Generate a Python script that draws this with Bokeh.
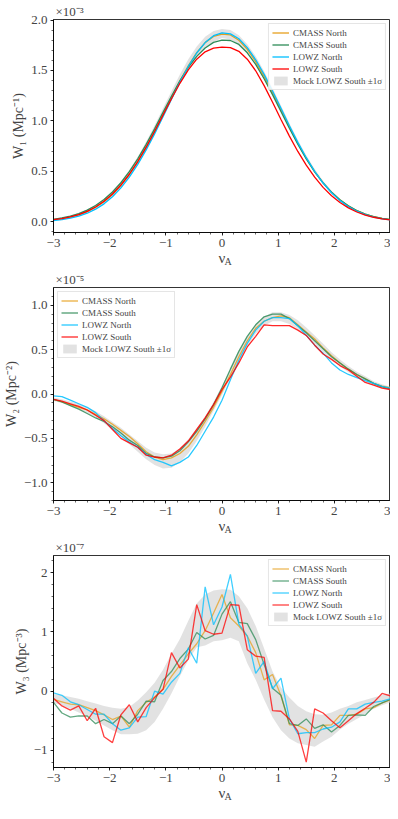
from bokeh.plotting import figure
from bokeh.models import (Range1d, FixedTicker, CustomJSTickFormatter, Legend,
                          LegendItem, Title)
from bokeh.layouts import column
from bokeh.embed import file_html
from bokeh.resources import INLINE

# ---------------- data ----------------
nu = [-3.0, -2.85, -2.7, -2.55, -2.4, -2.25, -2.1, -1.95, -1.8, -1.65,
      -1.5, -1.35, -1.2, -1.05, -0.9, -0.75, -0.6, -0.45, -0.3, -0.15,
      0.0,
      0.15, 0.3, 0.45, 0.6, 0.75, 0.9, 1.05, 1.2, 1.35, 1.5,
      1.65, 1.8, 1.95, 2.1, 2.25, 2.4, 2.55, 2.7, 2.85, 3.0]

series_names = ["CMASS North", "CMASS South", "LOWZ North", "LOWZ South"]
band_name = "Mock LOWZ South \u00b11\u03c3"

# W1 (x 1e-3 Mpc^-1)
w1_cmass_north = [0.022, 0.033, 0.049, 0.071, 0.102, 0.145, 0.200, 0.272, 0.361, 0.468,
                  0.594, 0.737, 0.894, 1.061, 1.229, 1.395, 1.546, 1.676, 1.776, 1.838,
                  1.860,
                  1.852, 1.800, 1.710, 1.588, 1.442, 1.279, 1.110, 0.940, 0.779, 0.631,
                  0.499, 0.387, 0.293, 0.217, 0.157, 0.111, 0.077, 0.052, 0.034, 0.022]
w1_cmass_south = [0.026, 0.039, 0.057, 0.082, 0.116, 0.162, 0.221, 0.296, 0.388, 0.498,
                  0.625, 0.768, 0.922, 1.085, 1.245, 1.397, 1.531, 1.640, 1.723, 1.778,
                  1.800,
                  1.797, 1.758, 1.675, 1.560, 1.418, 1.259, 1.094, 0.928, 0.770, 0.625,
                  0.496, 0.386, 0.294, 0.219, 0.159, 0.113, 0.078, 0.053, 0.035, 0.023]
w1_lowz_north = [0.014, 0.023, 0.037, 0.057, 0.086, 0.126, 0.179, 0.249, 0.337, 0.444,
                 0.570, 0.713, 0.872, 1.042, 1.215, 1.384, 1.540, 1.673, 1.776, 1.845,
                 1.872,
                 1.862, 1.814, 1.726, 1.606, 1.461, 1.297, 1.125, 0.953, 0.788, 0.636,
                 0.500, 0.385, 0.289, 0.211, 0.151, 0.106, 0.072, 0.048, 0.031, 0.019]
w1_lowz_south = [0.022, 0.033, 0.050, 0.073, 0.105, 0.148, 0.204, 0.276, 0.365, 0.472,
                 0.598, 0.740, 0.895, 1.058, 1.220, 1.373, 1.506, 1.612, 1.685, 1.722,
                 1.732,
                 1.726, 1.690, 1.612, 1.497, 1.350, 1.185, 1.014, 0.850, 0.698, 0.562,
                 0.443, 0.342, 0.259, 0.192, 0.139, 0.098, 0.068, 0.046, 0.031, 0.020]
w1_mock_hi = [0.030, 0.043, 0.062, 0.088, 0.123, 0.170, 0.230, 0.306, 0.400, 0.513,
              0.645, 0.793, 0.955, 1.125, 1.295, 1.460, 1.610, 1.737, 1.833, 1.892,
              1.912,
              1.900, 1.850, 1.760, 1.640, 1.492, 1.326, 1.152, 0.978, 0.812, 0.660,
              0.524, 0.407, 0.308, 0.228, 0.165, 0.118, 0.082, 0.056, 0.038, 0.026]
w1_mock_lo = [0.014, 0.023, 0.037, 0.057, 0.086, 0.126, 0.180, 0.250, 0.338, 0.445,
              0.570, 0.712, 0.868, 1.034, 1.200, 1.360, 1.505, 1.628, 1.722, 1.782,
              1.822,
              1.808, 1.760, 1.672, 1.552, 1.408, 1.246, 1.078, 0.912, 0.756, 0.612,
              0.484, 0.374, 0.282, 0.206, 0.148, 0.104, 0.071, 0.047, 0.030, 0.018]

# W2 (x 1e-5 Mpc^-2)
w2_cmass_north = [-0.06, -0.09, -0.12, -0.15, -0.18, -0.23, -0.28, -0.34, -0.41, -0.48,
                  -0.56, -0.65, -0.71, -0.74, -0.72, -0.67, -0.59, -0.46, -0.31, -0.15,
                  0.03,
                  0.22, 0.42, 0.60, 0.74, 0.82, 0.86, 0.88, 0.86, 0.78, 0.70,
                  0.62, 0.52, 0.43, 0.35, 0.28, 0.22, 0.17, 0.12, 0.09, 0.07]
w2_cmass_south = [-0.06, -0.09, -0.13, -0.17, -0.22, -0.27, -0.31, -0.37, -0.44, -0.52,
                  -0.58, -0.67, -0.71, -0.72, -0.70, -0.64, -0.54, -0.42, -0.28, -0.12,
                  0.07,
                  0.28, 0.48, 0.65, 0.78, 0.87, 0.90, 0.90, 0.85, 0.77, 0.69,
                  0.60, 0.51, 0.42, 0.35, 0.28, 0.22, 0.17, 0.12, 0.08, 0.06]
w2_lowz_north = [-0.02, -0.03, -0.07, -0.11, -0.15, -0.21, -0.30, -0.39, -0.47, -0.54,
                 -0.60, -0.68, -0.74, -0.77, -0.81, -0.77, -0.71, -0.58, -0.42, -0.26,
                 -0.07,
                 0.16, 0.38, 0.57, 0.72, 0.82, 0.86, 0.86, 0.85, 0.77, 0.66,
                 0.55, 0.46, 0.35, 0.27, 0.22, 0.185, 0.15, 0.12, 0.085, 0.065]
w2_lowz_south = [-0.06, -0.08, -0.11, -0.14, -0.18, -0.24, -0.30, -0.40, -0.50, -0.55,
                 -0.60, -0.69, -0.71, -0.72, -0.69, -0.62, -0.53, -0.40, -0.27, -0.12,
                 0.05,
                 0.19, 0.35, 0.53, 0.65, 0.78, 0.77, 0.77, 0.77, 0.72, 0.66,
                 0.55, 0.45, 0.39, 0.32, 0.27, 0.20, 0.13, 0.10, 0.065, 0.05]
w2_mock_hi = [-0.04, -0.06, -0.085, -0.11, -0.15, -0.195, -0.25, -0.315, -0.38, -0.455,
              -0.53, -0.605, -0.66, -0.68, -0.67, -0.61, -0.51, -0.39, -0.25, -0.09,
              0.09,
              0.28, 0.47, 0.64, 0.78, 0.87, 0.92, 0.92, 0.89, 0.83, 0.75,
              0.66, 0.565, 0.47, 0.39, 0.315, 0.25, 0.20, 0.145, 0.11, 0.08]
w2_mock_lo = [-0.08, -0.10, -0.135, -0.17, -0.21, -0.265, -0.33, -0.405, -0.48, -0.565,
              -0.65, -0.735, -0.80, -0.84, -0.83, -0.77, -0.67, -0.53, -0.37, -0.19,
              -0.01,
              0.18, 0.37, 0.54, 0.68, 0.77, 0.82, 0.82, 0.79, 0.73, 0.65,
              0.56, 0.475, 0.39, 0.31, 0.245, 0.19, 0.14, 0.095, 0.07, 0.04]

# W3 (x 1e-7 Mpc^-3)
w3_cmass_north = [-0.14, -0.18, -0.22, -0.23, -0.28, -0.33, -0.40, -0.48, -0.42, -0.61,
                  -0.33, -0.19, -0.10, 0.03, 0.25, 0.44, 0.63, 0.80, 1.02, 1.32,
                  1.63,
                  1.24, 1.10, 0.93, 0.65, 0.19, 0.28, -0.08, -0.57, -0.58, -0.65,
                  -0.80, -0.58, -0.57, -0.41, -0.41, -0.39, -0.30, -0.28, -0.20, -0.15]
w3_cmass_south = [-0.19, -0.37, -0.44, -0.42, -0.42, -0.55, -0.48, -0.55, -0.42, -0.55,
                  -0.39, -0.17, -0.18, 0.18, 0.33, 0.55, 0.71, 0.99, 0.88, 0.94,
                  1.30,
                  1.51, 1.16, 1.14, 0.87, 0.45, 0.05, -0.07, -0.55, -0.58, -0.47,
                  -0.63, -0.57, -0.69, -0.58, -0.41, -0.40, -0.41, -0.26, -0.20, -0.14]
w3_lowz_north = [-0.03, -0.07, -0.18, -0.23, -0.31, -0.39, -0.39, -0.55, -0.66, -0.62,
                 -0.44, -0.43, 0.00, -0.05, 0.15, 0.30, 0.73, 0.47, 1.76, 1.12,
                 1.42,
                 1.97, 1.13, 0.93, 0.30, 0.50, 0.04, 0.22, -0.47, -0.72, -0.70,
                 -0.70, -0.64, -0.61, -0.52, -0.30, -0.30, -0.22, -0.19, -0.17, -0.13]
w3_lowz_south = [-0.12, -0.25, -0.32, -0.25, -0.50, -0.29, -0.77, -0.87, -0.40, -0.23,
                 -0.52, -0.28, -0.11, 0.03, 0.65, 0.39, 0.54, 1.46, 1.02, 0.96,
                 0.98,
                 1.46, 1.45, 0.70, 0.59, 0.57, -0.33, -0.34, -0.47, -0.68, -1.20,
                 -0.30, -0.37, -0.50, -0.62, -0.50, -0.38, -0.29, -0.19, -0.04, -0.08]
w3_mock_hi = [-0.05, -0.07, -0.10, -0.13, -0.17, -0.21, -0.25, -0.28, -0.30, -0.27,
              -0.16, -0.02, 0.14, 0.36, 0.63, 0.88, 1.19, 1.48, 1.63, 1.70,
              1.72,
              1.71, 1.60, 1.40, 1.10, 0.72, 0.33, 0.06, -0.11, -0.25, -0.34,
              -0.39, -0.40, -0.36, -0.30, -0.25, -0.19, -0.15, -0.11, -0.07, -0.04]
w3_mock_lo = [-0.20, -0.24, -0.30, -0.36, -0.42, -0.50, -0.58, -0.66, -0.73, -0.73,
              -0.72, -0.66, -0.52, -0.30, -0.04, 0.25, 0.52, 0.74, 0.77, 0.84,
              0.86,
              0.90, 0.84, 0.47, 0.19, -0.14, -0.44, -0.66, -0.80, -0.88, -0.91,
              -0.94, -0.85, -0.77, -0.65, -0.55, -0.47, -0.39, -0.30, -0.24, -0.19]

x_ticks = [-3, -2, -1, 0, 1, 2, 3]
y1_ticks = [0.0, 0.5, 1.0, 1.5, 2.0]
y2_ticks = [-1.0, -0.5, 0.0, 0.5, 1.0]
y3_ticks = [-1, 0, 1, 2]

# ---------------- style ----------------
FONT = "Liberation Serif"
COLORS = ["#E6A01E", "#2E8B57", "#00BFFF", "#FF0000"]


def fmt(digits):
    return CustomJSTickFormatter(code=(
        "const s = Math.abs(tick).toFixed(%d);"
        "return (tick < -1e-9 ? '\\u2212' : '') + s;" % digits))


def make_panel(height, ylo, yhi, yticks, yminor, ydigits, ylabel, scale,
               curves, band_lo, band_hi, alpha, legend_loc):
    p = figure(width=390, height=height, output_backend="svg", toolbar_location=None,
               x_range=Range1d(-3, 3), y_range=Range1d(ylo, yhi),
               min_border_left=45, min_border_right=0, min_border_top=14,
               min_border_bottom=36)
    p.grid.visible = False
    p.outline_line_color = "black"
    p.outline_line_width = 0.8
    p.background_fill_color = "white"
    p.border_fill_color = "white"

    band = p.varea(x=nu, y1=band_lo, y2=band_hi, fill_color="#d6d6d6", fill_alpha=0.7)
    items = []
    for name, ys, col in zip(series_names, curves, COLORS):
        r = p.line(nu, ys, line_color=col, line_width=1.3, line_alpha=alpha)
        items.append(LegendItem(label=name, renderers=[r]))
    items.append(LegendItem(label=band_name, renderers=[band]))

    legend = Legend(items=items, location=legend_loc,
                    label_text_font=FONT, label_text_font_size="9px",
                    label_height=11, glyph_height=11, glyph_width=17,
                    spacing=1, padding=3, margin=4, label_standoff=4,
                    border_line_color="#cccccc", border_line_width=0.8,
                    background_fill_alpha=0.85)
    p.add_layout(legend)

    xa = p.xaxis[0]
    xa.ticker = FixedTicker(ticks=x_ticks,
                            minor_ticks=[-3 + 0.2 * i for i in range(31)])
    xa.formatter = fmt(0)
    ya = p.yaxis[0]
    ya.ticker = FixedTicker(ticks=yticks, minor_ticks=yminor)
    ya.formatter = fmt(ydigits)
    for ax in (xa, ya):
        ax.axis_line_color = "black"
        ax.axis_line_width = 0.8
        ax.major_tick_in = 0
        ax.major_tick_out = 3
        ax.minor_tick_in = 0
        ax.minor_tick_out = 2
        ax.major_tick_line_width = 0.8
        ax.minor_tick_line_width = 0.6
        ax.major_label_text_font = FONT
        ax.major_label_text_font_size = "13px"
        ax.major_label_standoff = 3
    ya.axis_label = ylabel
    ya.axis_label_text_font = FONT
    ya.axis_label_text_font_size = "14px"
    ya.axis_label_text_font_style = "normal"
    ya.axis_label_standoff = 2

    xa.axis_label = "\u03bd"
    xa.axis_label_text_font = FONT
    xa.axis_label_text_font_size = "15px"
    xa.axis_label_text_font_style = "normal"
    xa.axis_label_standoff = 0
    # subscript "A" of nu_A
    p.add_layout(Title(text="A", align="left", offset=171, standoff=-26,
                       vertical_align="top", text_font=FONT,
                       text_font_size="10px", text_font_style="normal"), "below")
    # scale factor above the frame
    p.add_layout(Title(text=scale, align="left", offset=2, standoff=2,
                       vertical_align="bottom", text_font=FONT,
                       text_font_size="13px", text_font_style="normal"), "above")
    return p


p1 = make_panel(268, -0.105, 2.005, y1_ticks,
                [0.1 * i for i in range(-1, 21)], 1,
                "W\u2081 (Mpc\u207b\u00b9)", "\u00d710\u207b\u00b3",
                [w1_cmass_north, w1_cmass_south, w1_lowz_north, w1_lowz_south],
                w1_mock_lo, w1_mock_hi, 1.0, "top_right")
p2 = make_panel(268, -1.2, 1.2, y2_ticks,
                [-1.2 + 0.1 * i for i in range(25)], 1,
                "W\u2082 (Mpc\u207b\u00b2)", "\u00d710\u207b\u2075",
                [w2_cmass_north, w2_cmass_south, w2_lowz_north, w2_lowz_south],
                w2_mock_lo, w2_mock_hi, 0.85, "top_left")
p3 = make_panel(267, -1.29, 2.29, y3_ticks,
                [-1.2 + 0.2 * i for i in range(18)], 0,
                "W\u2083 (Mpc\u207b\u00b3)", "\u00d710\u207b\u2077",
                [w3_cmass_north, w3_cmass_south, w3_lowz_north, w3_lowz_south],
                w3_mock_lo, w3_mock_hi, 0.75, "top_right")

layout = column(p1, p2, p3, spacing=0)
open("out.html", "w").write(file_html(layout, INLINE))
